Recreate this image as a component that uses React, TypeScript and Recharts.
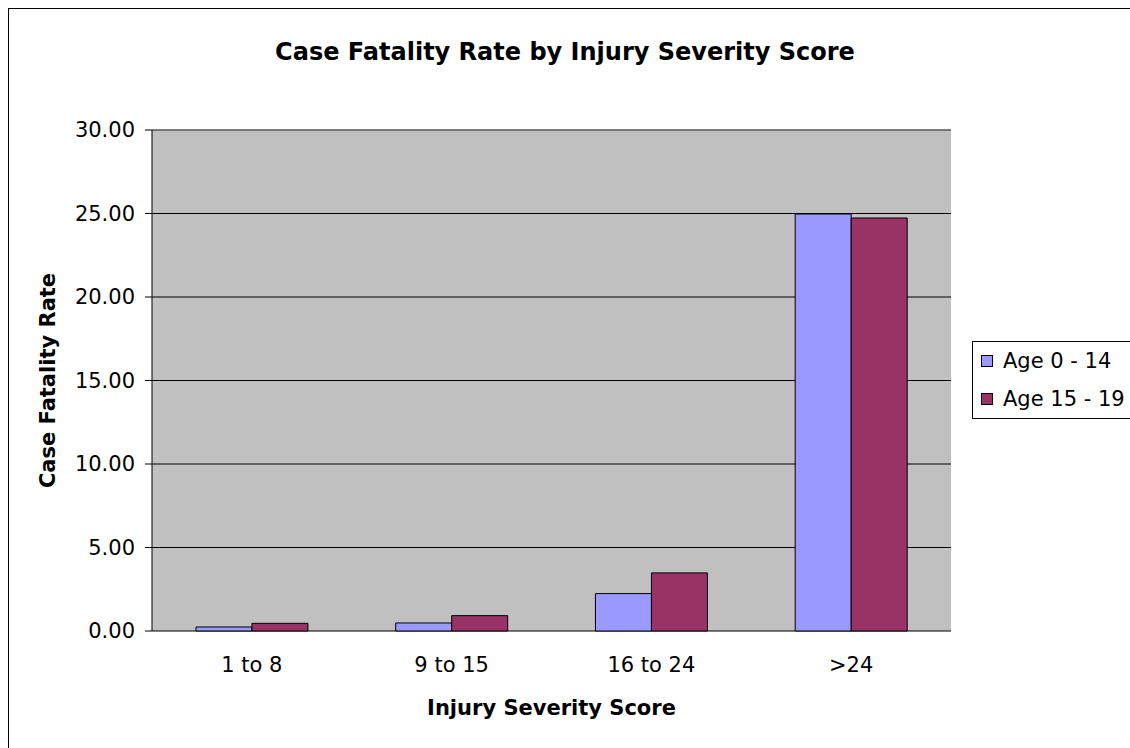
import { BarChart, Bar, XAxis, YAxis, CartesianGrid, ReferenceLine } from 'recharts'

const categories = ['1 to 8', '9 to 15', '16 to 24', '>24']
const age0to14 = [0.24, 0.48, 2.24, 24.97]
const age15to19 = [0.46, 0.92, 3.48, 24.73]
const seriesNames = ['Age 0 - 14', 'Age 15 - 19']
const yTicks = [0, 5, 10, 15, 20, 25, 30]
// category boundaries, Excel puts the x tick marks between groups
const bandTicks = [0, 1, 2, 3, 4]

const COLORS = ['#9999FF', '#993366']
const FONT = "'DejaVu Sans', sans-serif"

const data = categories.map((name, i) => ({
  name,
  young: age0to14[i],
  teen: age15to19[i]
}))

export default function App() {
  const tickStyle = { fill: '#000', fontSize: 21, fontFamily: FONT }
  const labelStyle = { fill: '#000', fontSize: 21, fontWeight: 'bold', fontFamily: FONT }

  // fixed so the oversized chart frame is clipped by the window without scrollbars
  return (
    <div style={{ position: 'fixed', left: 0, top: 0, width: 1130, height: 748, overflow: 'hidden', background: '#fff' }}>
      <div
        style={{
          position: 'absolute',
          left: 8,
          top: 8,
          width: 1140,
          height: 760,
          border: '1px solid #000',
          background: '#fff',
          fontFamily: FONT
        }}
      >
        <div style={{ position: 'absolute', left: 0, top: 29, width: 1112, textAlign: 'center', fontSize: 24, fontWeight: 'bold' }}>
          Case Fatality Rate by Injury Severity Score
        </div>

        <BarChart
          width={1140}
          height={760}
          data={data}
          margin={{ top: 121, right: 198, bottom: 38, left: 20 }}
          barCategoryGap="22%"
          barGap={0}
        >
          <CartesianGrid vertical={false} stroke="#000" fill="#C0C0C0" />
          <XAxis
            xAxisId="band"
            type="number"
            domain={[0, 4]}
            ticks={bandTicks}
            interval={0}
            height={0}
            tickSize={7}
            tickFormatter={() => ''}
            axisLine={{ stroke: '#000' }}
            tickLine={{ stroke: '#000' }}
          />
          <XAxis
            dataKey="name"
            interval={0}
            height={100}
            tickSize={0}
            tickMargin={26}
            tickLine={false}
            axisLine={false}
            tick={tickStyle}
            label={{ value: 'Injury Severity Score', position: 'insideTop', offset: 69, style: labelStyle }}
          />
          <YAxis
            domain={[0, 30]}
            ticks={yTicks}
            interval={0}
            width={123}
            tickSize={7}
            tickMargin={10}
            tickFormatter={(v: number) => v.toFixed(2)}
            tick={tickStyle}
            axisLine={{ stroke: '#000' }}
            tickLine={{ stroke: '#000' }}
            label={{
              value: 'Case Fatality Rate',
              angle: -90,
              position: 'insideLeft',
              offset: 19,
              style: { ...labelStyle, textAnchor: 'middle' }
            }}
          />
          <ReferenceLine y={30} stroke="#808080" />
          <ReferenceLine xAxisId="band" x={4} stroke="#808080" />
          <Bar dataKey="young" name={seriesNames[0]} fill={COLORS[0]} stroke="#000" strokeWidth={1} isAnimationActive={false} />
          <Bar dataKey="teen" name={seriesNames[1]} fill={COLORS[1]} stroke="#000" strokeWidth={1} isAnimationActive={false} />
        </BarChart>

        <div style={{ position: 'absolute', left: 963, top: 332, width: 180, height: 76, border: '1px solid #000', background: '#fff' }}>
          {seriesNames.map((name, i) => (
            <div key={name} style={{ display: 'flex', alignItems: 'center', height: 38, fontSize: 21 }}>
              <span
                style={{
                  display: 'inline-block',
                  boxSizing: 'border-box',
                  width: 12,
                  height: 12,
                  border: '1px solid #000',
                  background: COLORS[i],
                  marginLeft: 8,
                  marginRight: 10
                }}
              />
              {name}
            </div>
          ))}
        </div>
      </div>
    </div>
  )
}
